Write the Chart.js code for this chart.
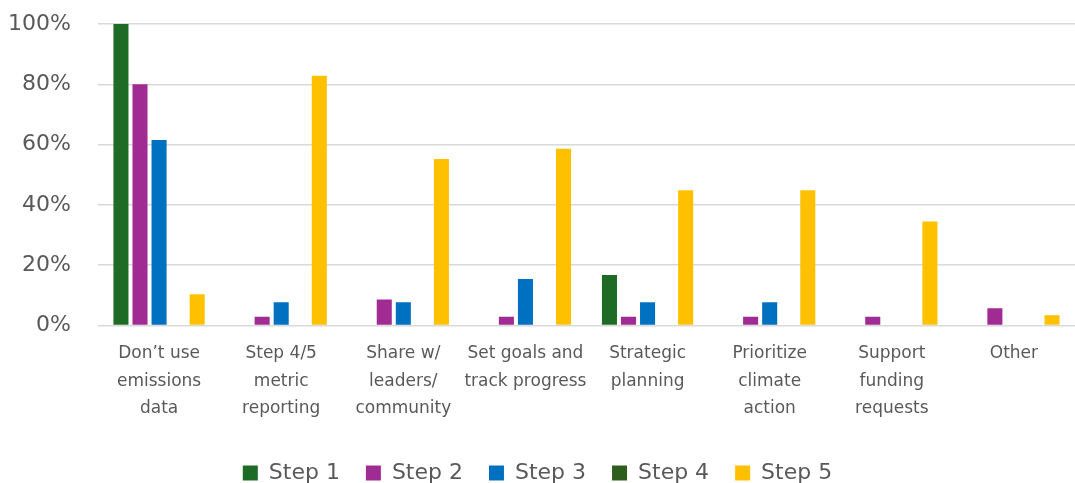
<!DOCTYPE html>
<html>
<head>
<meta charset="utf-8">
<script src="https://cdn.jsdelivr.net/npm/chart.js@4.4.1/dist/chart.umd.min.js"></script>
<style>
   html, body { margin: 0; padding: 0; background: #fff; }
   #wrap { width: 1075px; height: 483px; }
</style>
</head>
<body>
<div id="wrap"><canvas id="uses-chart"></canvas></div>
<script>
// categories (multi-line tick labels)
const categories = [
   ['Don’t use', 'emissions', 'data'],
   ['Step 4/5', 'metric', 'reporting'],
   ['Share w/', 'leaders/', 'community'],
   ['Set goals and', 'track progress'],
   ['Strategic', 'planning'],
   ['Prioritize', 'climate', 'action'],
   ['Support', 'funding', 'requests'],
   ['Other']
]

// percent of respondents, per step
const step1 = [100, 0, 0, 0, 16.7, 0, 0, 0]
const step2 = [80, 2.9, 8.6, 2.9, 2.9, 2.9, 2.9, 5.7]
const step3 = [61.5, 7.7, 7.7, 15.4, 7.7, 7.7, 0, 0]
const step4 = [0, 0, 0, 0, 0, 0, 0, 0]
const step5 = [10.3, 82.8, 55.2, 58.6, 44.8, 44.8, 34.5, 3.4]

const yTicks = [0, 20, 40, 60, 80, 100]

const textColor = '#595959'
const fontFamily = '"DejaVu Sans", sans-serif'

function dataset(label, data, color) {
   return {
      label: label,
      data: data,
      backgroundColor: color,
      borderWidth: 0,
      barPercentage: 0.79,
      categoryPercentage: 0.78
   }
}

new Chart(document.getElementById('uses-chart'), {
   type: 'bar',
   data: {
      labels: categories,
      datasets: [
         dataset('Step 1', step1, '#1E6B26'),
         dataset('Step 2', step2, '#A02B93'),
         dataset('Step 3', step3, '#0070C0'),
         dataset('Step 4', step4, '#2E5E1C'),
         dataset('Step 5', step5, '#FFC000')
      ]
   },
   options: {
      responsive: true,
      maintainAspectRatio: false,
      animation: false,
      layout: {
         padding: { top: 24, right: 0, bottom: -11, left: 0 }
      },
      scales: {
         x: {
            afterFit: scale => { scale.height += 7 },
            grid: { display: false },
            border: { display: false },
            ticks: {
               color: textColor,
               maxRotation: 0,
               autoSkip: false,
               padding: 7,
               font: { family: fontFamily, size: 17, lineHeight: 1.6 }
            }
         },
         y: {
            min: 0,
            max: 100,
            afterFit: scale => {
               scale.width = 98
               scale.paddingTop = 0
               scale.paddingBottom = 0
            },
            afterBuildTicks: scale => { scale.ticks = yTicks.map(v => ({ value: v })) },
            border: { display: false },
            grid: { color: '#D9D9D9', lineWidth: 1.5, drawTicks: false },
            ticks: {
               color: textColor,
               padding: 27,
               font: { family: fontFamily, size: 22 },
               callback: value => value + '%'
            }
         }
      },
      plugins: {
         legend: {
            position: 'bottom',
            labels: {
               color: textColor,
               boxWidth: 15,
               boxHeight: 15,
               padding: 26,
               font: { family: fontFamily, size: 22 }
            }
         },
         tooltip: { enabled: false }
      }
   }
})
</script>
</body>
</html>
